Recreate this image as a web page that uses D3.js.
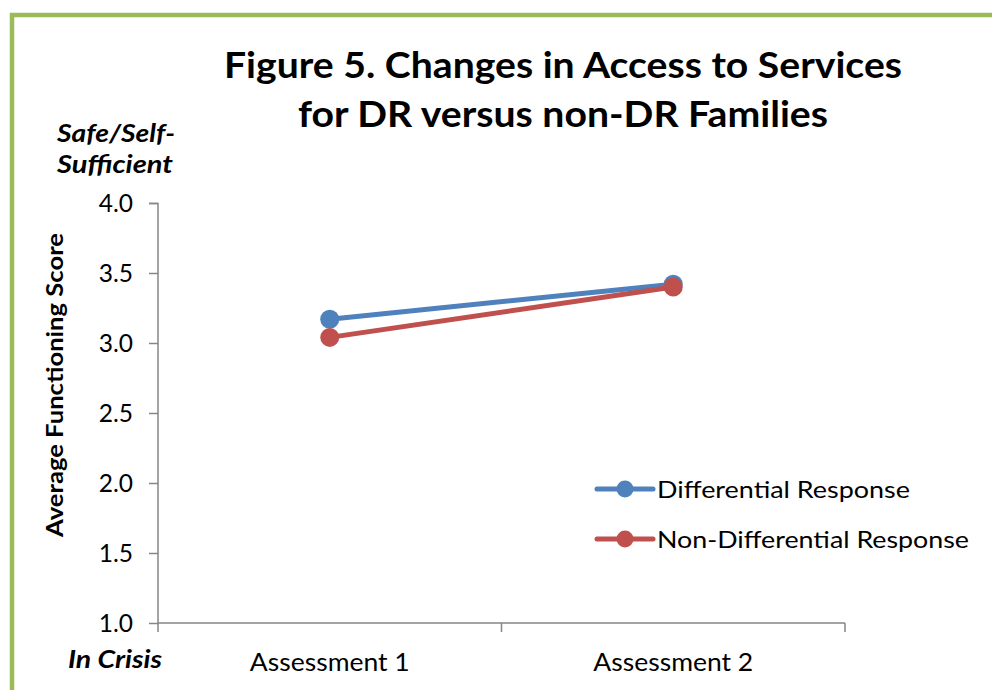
<!DOCTYPE html>
<html><head><meta charset="utf-8">
<script src="https://cdn.jsdelivr.net/npm/d3@7"></script>
<style>body{margin:0;background:#fff;}svg{display:block;font-family:Lato,"Open Sans",sans-serif;}</style>
</head><body>
<svg id="c" width="992" height="690"></svg>
<script>
const categories = ["Assessment 1", "Assessment 2"];
const drValues = [3.17, 3.42];
const nonDrValues = [3.04, 3.40];
const seriesNames = ["Differential Response", "Non-Differential Response"];
const yTicks = [1.0, 1.5, 2.0, 2.5, 3.0, 3.5, 4.0];
const titleLines = ["Figure 5. Changes in Access to Services", "for DR versus non-DR Families"];

const colors = ["#4F81BD", "#C0504D"];
const axisColor = "#868686";
const svg = d3.select("#c");

// frame
svg.append("path").attr("d", "M12,692 L12,15 L994,15")
  .attr("fill", "none").attr("stroke", "#9BBB59").attr("stroke-width", 4.5);

function fit(sel, w) {
  const n = sel.node();
  const len = n.getComputedTextLength();
  if (Math.abs(len - w) > 2) sel.attr("textLength", w).attr("lengthAdjust", "spacingAndGlyphs");
  return sel;
}

const x = d3.scaleBand().domain(categories).range([158, 845]).padding(0);
const y = d3.scaleLinear().domain([1, 4]).range([623, 203]);

// title
const tw = [678, 530], ty = [78, 127];
titleLines.forEach((t, i) => {
  const s = svg.append("text").attr("x", 563).attr("y", ty[i]).attr("text-anchor", "middle")
    .attr("font-size", 37).attr("font-weight", "bold").attr("fill", "#000").text(t);
  fit(s, tw[i]);
});

// y axis
const yAxis = d3.axisLeft(y).tickValues(yTicks).tickFormat(d3.format(".1f")).tickSize(9).tickPadding(16);
const gy = svg.append("g").attr("transform", "translate(158,0)").call(yAxis);
gy.select(".domain").attr("stroke", axisColor).attr("stroke-width", 1.5).attr("d", "M-9,203.5H0V623");
gy.selectAll(".tick line").attr("stroke", axisColor).attr("stroke-width", 1.5);
gy.selectAll(".tick text").attr("font-size", 24.5).attr("fill", "#000").attr("font-family", "Lato, sans-serif").attr("dy", "0.36em");

// x axis
const xAxis = d3.axisBottom(x).tickSize(0).tickPadding(48);
const gx = svg.append("g").attr("transform", "translate(0,623)").call(xAxis);
gx.select(".domain").attr("stroke", axisColor).attr("stroke-width", 1.5).attr("d", "M158,0H845");
gx.selectAll(".tick text").attr("font-size", 24.5).attr("fill", "#000").attr("font-family", "Lato, sans-serif").attr("dy", "0")
  .each(function(){ fit(d3.select(this), 160); });
const bounds = categories.map(c => x(c)).concat([x(categories[categories.length-1]) + x.bandwidth()]);
gx.selectAll(".bound").data(bounds).enter().append("line")
  .attr("x1", d => d).attr("x2", d => d).attr("y1", 0).attr("y2", 9)
  .attr("stroke", axisColor).attr("stroke-width", 1.5);

// y axis title
const yt = svg.append("text").attr("transform", "translate(63,385) rotate(-90)")
  .attr("text-anchor", "middle").attr("font-size", 23).attr("font-weight", "bold").text("Average Functioning Score");
fit(yt, 304);

// extremes labels
fit(svg.append("text").attr("x", 57).attr("y", 142).attr("font-size", 25).attr("font-weight", "bold").attr("font-style", "italic").text("Safe/Self-"), 118);
fit(svg.append("text").attr("x", 57).attr("y", 173).attr("font-size", 25).attr("font-weight", "bold").attr("font-style", "italic").text("Sufficient"), 116);
fit(svg.append("text").attr("x", 68).attr("y", 668).attr("font-size", 24).attr("font-weight", "bold").attr("font-style", "italic").text("In Crisis"), 94);

// series
const series = [drValues, nonDrValues];
const cx = c => x(c) + x.bandwidth() / 2;
const line = d3.line().x((d, i) => cx(categories[i])).y(d => y(d));
series.forEach((vals, si) => {
  const g = svg.append("g");
  g.append("path").datum(vals).attr("d", line).attr("fill", "none")
    .attr("stroke", colors[si]).attr("stroke-width", 5).attr("stroke-linecap", "round");
  g.selectAll("circle").data(vals).enter().append("circle")
    .attr("cx", (d, i) => cx(categories[i])).attr("cy", d => y(d)).attr("r", 9.5).attr("fill", colors[si]);
});

// legend
const lw = [253, 312];
seriesNames.forEach((n, i) => {
  const ly = 489 + i * 50;
  svg.append("line").attr("x1", 597).attr("x2", 653).attr("y1", ly).attr("y2", ly)
    .attr("stroke", colors[i]).attr("stroke-width", 5).attr("stroke-linecap", "round");
  svg.append("circle").attr("cx", 625).attr("cy", ly).attr("r", 8.5).attr("fill", colors[i]);
  fit(svg.append("text").attr("x", 657).attr("y", ly + 8.5).attr("font-size", 24).attr("fill", "#000").text(n), lw[i]);
});
</script>
</body></html>
